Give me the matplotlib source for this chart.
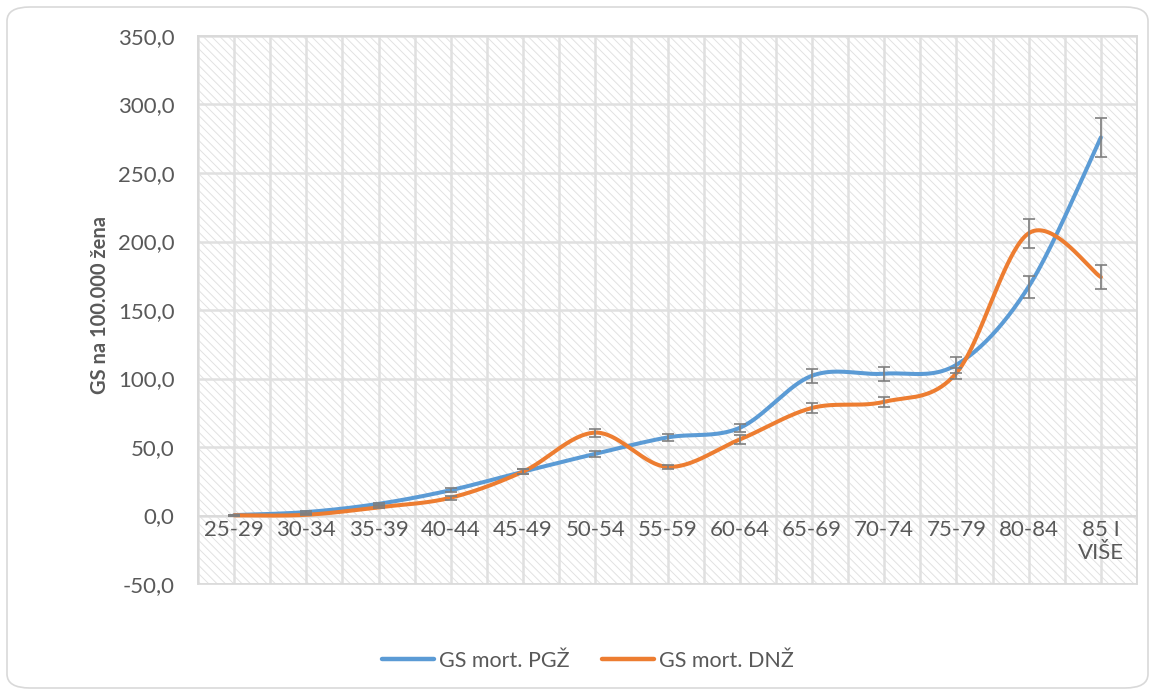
import numpy as np
import matplotlib
matplotlib.use("Agg")
import matplotlib.pyplot as plt
from matplotlib.patches import FancyBboxPatch, Rectangle

categories = ["25-29", "30-34", "35-39", "40-44", "45-49", "50-54", "55-59",
              "60-64", "65-69", "70-74", "75-79", "80-84", "85 I\nVIŠE"]
pgz = [0.3, 2.5, 8.5, 18.5, 32.0, 45.0, 57.0, 64.0, 102.0, 103.5, 110.0, 167.0, 276.0]
pgz_err = [0.3, 0.5, 0.8, 1.5, 2.0, 2.0, 2.5, 3.0, 5.0, 5.0, 6.0, 8.0, 14.0]
dnz = [0.1, 0.5, 6.0, 13.0, 32.0, 60.5, 35.5, 55.5, 78.5, 83.0, 104.0, 206.0, 174.0]
dnz_err = [0.1, 0.3, 0.8, 1.5, 2.0, 3.0, 1.5, 3.0, 3.5, 3.6, 4.0, 10.5, 8.5]
yticks = [-50, 0, 50, 100, 150, 200, 250, 300, 350]

BLUE = "#5B9BD5"
ORANGE = "#ED7D31"
GREY_TXT = "#595959"
plt.rcParams['font.family'] = ['Lato', 'DejaVu Sans']
plt.rcParams['hatch.linewidth'] = 0.7

W, H = 1155, 695
fig = plt.figure(figsize=(W / 100, H / 100), dpi=100)

# outer rounded frame
frame = FancyBboxPatch((7 / W, 7 / H), (W - 14) / W, (H - 14) / H,
                       boxstyle="round,pad=0,rounding_size=0.02",
                       transform=fig.transFigure, facecolor="white",
                       edgecolor="#d9d9d9", linewidth=1.2, zorder=-5)
fig.patches.append(frame)

ax = fig.add_axes([198 / W, 1 - 584 / H, (1137 - 198) / W, (584 - 36) / H])
ax.set_facecolor("white")
ax.set_xlim(-0.5, len(categories) - 0.5)
ax.set_ylim(-50, 350)

# hatched plot area
bg = Rectangle((0, 0), 1, 1, transform=ax.transAxes, facecolor="white",
               edgecolor="#e2e2e2", hatch="\\\\\\\\", linewidth=0, zorder=0)
ax.add_patch(bg)

# gridlines
for v in yticks:
    ax.axhline(v, color="#e0e0e0", lw=1.8, zorder=1)
for xv in np.arange(-0.5, len(categories), 0.5):
    ax.axvline(xv, color="#e0e0e0", lw=1.8, zorder=1)

for s in ["top", "left", "right"]:
    ax.spines[s].set_color("#d9d9d9")
    ax.spines[s].set_linewidth(1.2)
ax.spines["bottom"].set_position(("data", 0))
ax.spines["bottom"].set_color("#d9d9d9")
ax.spines["bottom"].set_linewidth(1.2)
border = Rectangle((0, 0), 1, 1, transform=ax.transAxes, fill=False,
                   edgecolor="#d9d9d9", linewidth=1.2, zorder=2, clip_on=False)
ax.add_patch(border)

x = np.arange(len(categories))
ax.set_xticks(x)
ax.set_xticklabels(categories, fontsize=16, color=GREY_TXT, va="top",
                   linespacing=1.15)
ax.set_yticks(yticks)
ax.set_yticklabels([f"{v:.1f}".replace(".", ",") for v in yticks],
                   fontsize=16, color=GREY_TXT)
ax.tick_params(axis="both", length=0)
ax.tick_params(axis="x", pad=3.5)
ax.tick_params(axis="y", pad=17)


def smooth(xs, ys, n=40):
    # Excel-like smoothed line: Catmull-Rom bezier in display space
    P = ax.transData.transform(np.column_stack([xs, ys]))
    N = len(P)
    out = []
    t = np.linspace(0, 1, n)[:, None]
    for i in range(N - 1):
        p0 = P[max(i - 1, 0)]
        p1 = P[i]
        p2 = P[i + 1]
        p3 = P[min(i + 2, N - 1)]
        c1 = p1 + (p2 - p0) / 6
        c2 = p2 - (p3 - p1) / 6
        seg = ((1 - t) ** 3) * p1 + 3 * ((1 - t) ** 2) * t * c1 \
            + 3 * (1 - t) * t ** 2 * c2 + t ** 3 * p2
        out.append(seg if i == 0 else seg[1:])
    pts = ax.transData.inverted().transform(np.vstack(out))
    return pts[:, 0], pts[:, 1]


sx, sy = smooth(x, np.array(pgz))
ax.plot(sx, sy, color=BLUE, lw=2.9, solid_capstyle="round", zorder=4,
        label="GS mort. PGŽ")
sx, sy = smooth(x, np.array(dnz))
ax.plot(sx, sy, color=ORANGE, lw=2.9, solid_capstyle="round", zorder=4,
        label="GS mort. DNŽ")

ax.errorbar(x, pgz, yerr=pgz_err, fmt="none", ecolor="#7f7f7f", elinewidth=1.2,
            capsize=4.5, capthick=1.2, zorder=5)
ax.errorbar(x, dnz, yerr=dnz_err, fmt="none", ecolor="#7f7f7f", elinewidth=1.2,
            capsize=4.5, capthick=1.2, zorder=5)

fig.text(100 / W, 1 - 305 / H, "GS na 100.000 žena", rotation=90,
         fontsize=14.5, fontweight="bold", color=GREY_TXT,
         ha="center", va="center")

handles, labels = ax.get_legend_handles_labels()
leg = fig.legend(handles, labels, loc="center", bbox_to_anchor=(588 / W, 1 - 661 / H),
                 ncol=2, frameon=False, fontsize=15.5, handlelength=2.4,
                 handletextpad=0.25, columnspacing=1.5)
for t in leg.get_texts():
    t.set_color(GREY_TXT)
for l in leg.get_lines():
    l.set_linewidth(3.2)

fig.savefig("out.png", dpi=100)
